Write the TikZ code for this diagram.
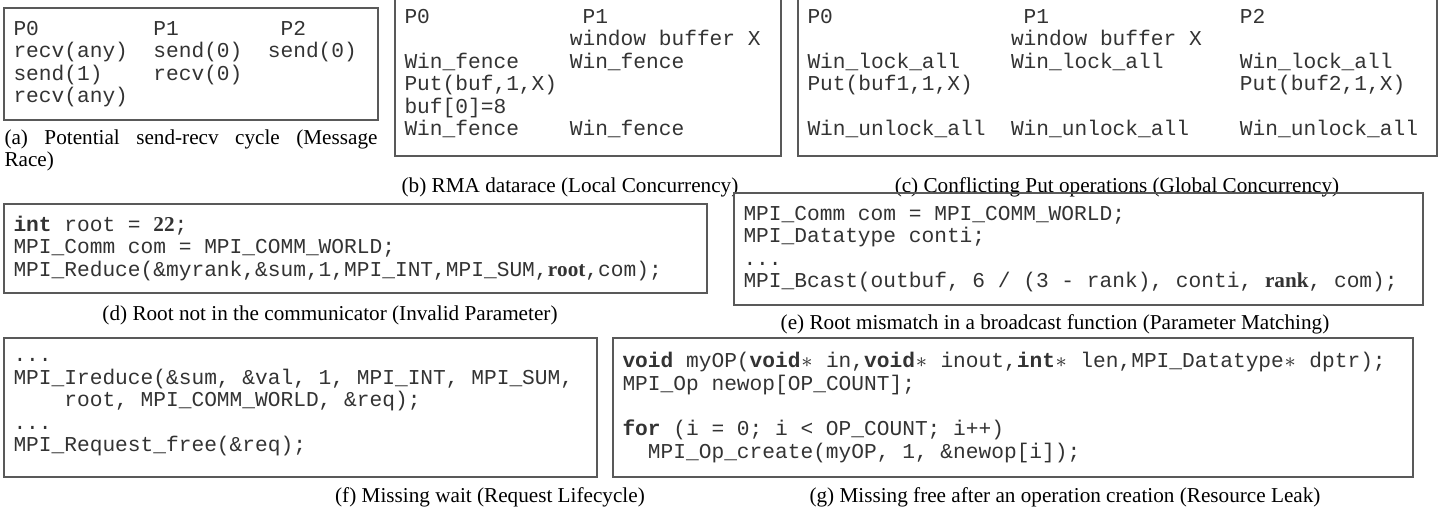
\documentclass[tikz,border=0pt]{standalone}
\usepackage{fontspec}
\setmainfont{Liberation Serif}
\setmonofont{Liberation Mono}
\usetikzlibrary{positioning}
\newlength{\px}\setlength{\px}{0.3774pt}
\newlength{\chw}\setlength{\chw}{4.8pt}
\newcommand{\gap}[1]{\hspace*{#1\chw}}
\newcommand{\ptr}{\makebox[\chw]{$\ast$}}
\newcommand{\codefont}{\ttfamily\fontsize{8}{8.5}\selectfont\spaceskip=\chw\xspaceskip=\chw\relax}
\begin{document}
\begin{tikzpicture}[x=\px,y=-\px,
  codebox/.style={draw=black!65,line width=0.5pt,inner xsep=3.6pt,inner ysep=0pt,
    align=flush left,text=black!80,font=\codefont},
  subcap/.style={inner sep=0pt,font=\fontsize{8}{8.3}\selectfont}]
\useasboundingbox (0,0) rectangle (1456,514);

% top row
\node[codebox,minimum width=374\px,minimum height=112\px,text width=355\px] (boxa) at (191,64)
  {P0\gap{9}P1\gap{8}P2\\
   recv(any)\gap{2}send(0)\gap{2}send(0)\\
   send(1)\gap{4}recv(0)\\
   recv(any)};
\node[codebox,minimum width=386\px,minimum height=165\px,text width=367\px] (boxb) at (588,73.5)
  {P0\gap{12}P1\\
   \gap{13}window buffer X\\
   Win\_fence\gap{4}Win\_fence\\
   Put(buf,1,X)\\
   buf[0]=8\\
   Win\_fence\gap{4}Win\_fence};
\node[codebox,minimum width=639\px,minimum height=165\px,text width=620\px] (boxc) at (1117.5,73.5)
  {P0\gap{15}P1\gap{15}P2\\
   \gap{16}window buffer X\\
   Win\_lock\_all\gap{4}Win\_lock\_all\gap{6}Win\_lock\_all\\
   Put(buf1,1,X)\gap{21}Put(buf2,1,X)\\
   \mbox{}\\
   Win\_unlock\_all\gap{2}Win\_unlock\_all\gap{4}Win\_unlock\_all};

\node[subcap,anchor=north west,text width=373\px,align=justify] (capa) at (4,129)
  {(a) Potential send-recv cycle (Message\linebreak Race)};
\node[subcap,anchor=base] (capb) at (570,192) {(b) RMA datarace (Local Concurrency)};
\node[subcap,anchor=base] (capc) at (1117,192) {(c) Conflicting Put operations (Global Concurrency)};

% middle row
\node[codebox,minimum width=703\px,minimum height=89\px,text width=684\px] (boxd) at (355.5,248.5)
  {\textbf{int} root = $\mathbf{22}$;\\
   MPI\_Comm com = MPI\_COMM\_WORLD;\\
   MPI\_Reduce(\&myrank,\&sum,1,MPI\_INT,MPI\_SUM,$\mathbf{root}$,com);};
\node[codebox,minimum width=689\px,minimum height=112\px,text width=670\px] (boxe) at (1078.5,249)
  {MPI\_Comm com = MPI\_COMM\_WORLD;\\
   MPI\_Datatype conti;\\
   ...\\
   MPI\_Bcast(outbuf, 6 / (3 - rank), conti, $\mathbf{rank}$, com);};

\node[subcap,anchor=base] (capd) at (330,320) {(d) Root not in the communicator (Invalid Parameter)};
\node[subcap,anchor=base] (cape) at (1055,329) {(e) Root mismatch in a broadcast function (Parameter Matching)};

% bottom row
\node[codebox,minimum width=593\px,minimum height=139\px,text width=574\px] (boxf) at (300.5,407.5)
  {...\\
   MPI\_Ireduce(\&sum, \&val, 1, MPI\_INT, MPI\_SUM,\\
   \gap{4}root, MPI\_COMM\_WORLD, \&req);\\
   ...\\
   MPI\_Request\_free(\&req);};
\node[codebox,minimum width=800\px,minimum height=139\px,text width=781\px] (boxg) at (1013,407.5)
  {\textbf{void} myOP(\textbf{void}\ptr{} in,\textbf{void}\ptr{} inout,\textbf{int}\ptr{} len,MPI\_Datatype\ptr{} dptr);\\
   MPI\_Op newop[OP\_COUNT];\\
   \mbox{}\\
   \textbf{for} (i = 0; i < OP\_COUNT; i++)\\
   \gap{2}MPI\_Op\_create(myOP, 1, \&newop[i]);};

\node[subcap,anchor=base] (capf) at (490,502) {(f) Missing wait (Request Lifecycle)};
\node[subcap,anchor=base] (capg) at (1065,502) {(g) Missing free after an operation creation (Resource Leak)};
\end{tikzpicture}
\end{document}
